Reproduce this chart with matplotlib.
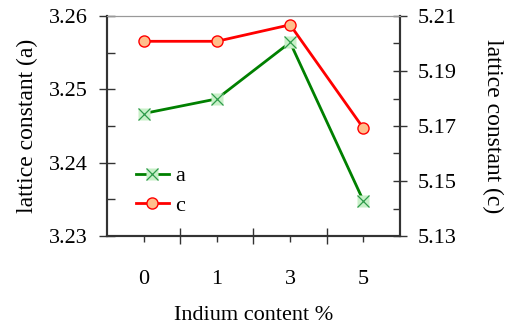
import matplotlib
matplotlib.use("Agg")
import matplotlib.pyplot as plt
from matplotlib.ticker import MultipleLocator, FixedLocator, NullFormatter, FormatStrFormatter
from matplotlib.legend_handler import HandlerTuple

plt.rcParams['font.family'] = ['Liberation Serif', 'DejaVu Serif']

categories = ['0', '1', '3', '5']
a_values = [3.2467, 3.2487, 3.2564, 3.2348]
c_values = [5.2008, 5.2008, 5.2068, 5.1692]
c_ticks = [5.13, 5.15, 5.17, 5.19, 5.21]
c_minor = [5.14, 5.16, 5.18, 5.20]

fig = plt.figure(figsize=(5.10, 3.29), dpi=100)
ax = fig.add_axes([107/510, 1-236/329, 293/510, 220/329])
ax2 = ax.twinx()

xs = list(range(len(categories)))
green = '#008000'
red = '#ff0000'

la, = ax.plot(xs, a_values, color=green, lw=2, marker='s', ms=8.5,
              mfc='#c8f0c8', mec='none', zorder=3)
lx, = ax.plot(xs, a_values, ls='none', marker='x', ms=8, mec='#2e9a4a',
              mew=0.9, zorder=4)
lc, = ax2.plot(xs, c_values, color=red, lw=2, marker='o', ms=8,
               mfc='#ffbf8c', mec=red, mew=1, zorder=3)

ax.set_xlim(-0.5, 3.5)
ax.set_ylim(3.23, 3.26)
ax2.set_ylim(5.13, 5.21)

ax.xaxis.set_major_locator(FixedLocator([0.5, 1.5, 2.5]))
ax.xaxis.set_major_formatter(NullFormatter())
ax.xaxis.set_minor_locator(FixedLocator(xs))
ax.set_xticks(xs, categories, minor=True)

ax.yaxis.set_major_locator(MultipleLocator(0.01))
ax.yaxis.set_minor_locator(MultipleLocator(0.005))
ax2.yaxis.set_major_locator(FixedLocator(c_ticks))
ax2.yaxis.set_minor_locator(FixedLocator(c_minor))
ax.yaxis.set_major_formatter(FormatStrFormatter('%.2f'))
ax2.yaxis.set_major_formatter(FormatStrFormatter('%.2f'))

tc = '#333333'
ax.tick_params(axis='x', which='major', direction='inout', length=11.5, width=1, color=tc)
ax.tick_params(axis='x', which='minor', direction='out', length=4, width=1, color=tc,
               labelsize=16, pad=20.5)
ax.tick_params(axis='y', which='major', direction='inout', length=11.5, width=1,
               color=tc, labelsize=16, pad=8)
ax.tick_params(axis='y', which='minor', direction='in', length=6, width=1, color=tc)
ax2.tick_params(axis='y', which='major', direction='inout', length=10.5, width=1,
                color=tc, labelsize=16, pad=7.8)
ax2.tick_params(axis='y', which='minor', direction='in', length=5, width=1, color=tc)

for a_ in (ax, ax2):
    for s in ('left', 'right', 'bottom'):
        a_.spines[s].set_color(tc)
        a_.spines[s].set_linewidth(1.5)
    a_.spines['top'].set_color('#999999')
    a_.spines['top'].set_linewidth(0.8)

ax.set_ylabel('lattice constant (a)', fontsize=17, labelpad=8)
ax2.set_ylabel('lattice constant (c)', fontsize=17, rotation=-90, labelpad=33)
ax.set_xlabel('Indium content %', fontsize=16, labelpad=12)

ax2.legend([(la, lx), lc], ['a', 'c'], handler_map={tuple: HandlerTuple(ndivide=1)},
           loc='center left', bbox_to_anchor=(0.1, 0.205), frameon=False,
           fontsize=16, handlelength=1.45, handletextpad=0.3, labelspacing=0.4,
           borderpad=0, borderaxespad=0)

fig.savefig('out.png', dpi=100)
